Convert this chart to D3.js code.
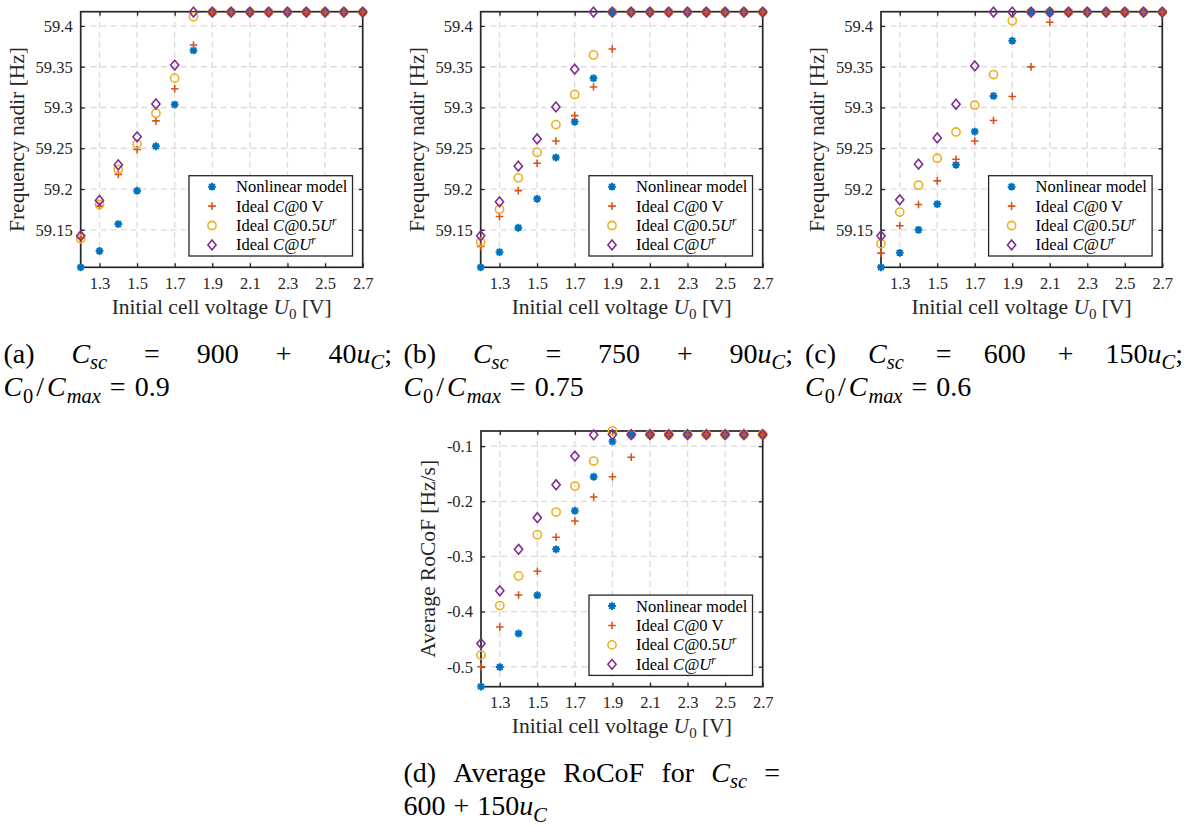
<!DOCTYPE html>
<html><head><meta charset="utf-8">
<script src="https://cdn.jsdelivr.net/npm/d3@7"></script>
<style>
body{margin:0;background:#fff}
svg{display:block}
</style>
</head><body>
<svg id="chart" width="1188" height="827"></svg>
<script>
// ---------------- data ----------------
const voltages = [1.2, 1.3, 1.4, 1.5, 1.6, 1.7, 1.8, 1.9, 2.0, 2.1, 2.2, 2.3, 2.4, 2.5, 2.6, 2.7];
const voltageTicks = [1.3, 1.5, 1.7, 1.9, 2.1, 2.3, 2.5, 2.7];
const voltageTickLabels = ["1.3", "1.5", "1.7", "1.9", "2.1", "2.3", "2.5", "2.7"];
const nadirTicks = [59.15, 59.2, 59.25, 59.3, 59.35, 59.4];
const nadirTickLabels = ["59.15", "59.2", "59.25", "59.3", "59.35", "59.4"];
const rocofTicks = [-0.5, -0.4, -0.3, -0.2, -0.1];
const rocofTickLabels = ["-0.5", "-0.4", "-0.3", "-0.2", "-0.1"];
const voltageRange = [1.2, 2.7];
const nadirRange = [59.104, 59.4175];
const rocofRange = [-0.5362, -0.0725];

// (a) Csc = 900 + 40uC
const aNonlinear = [59.104, 59.124, 59.157, 59.198, 59.2525, 59.3036, 59.370, 59.417, 59.417, 59.417, 59.417, 59.417, 59.417, 59.417, 59.417, 59.417];
const aIdeal0    = [59.140, 59.179, 59.218, 59.2485, 59.2836, 59.323, 59.3767, 59.417, 59.417, 59.417, 59.417, 59.417, 59.417, 59.417, 59.417, 59.417];
const aIdealHalf = [59.139, 59.181, 59.224, 59.2554, 59.293, 59.336, 59.4114, 59.417, 59.417, 59.417, 59.417, 59.417, 59.417, 59.417, 59.417, 59.417];
const aIdealFull = [59.1426, 59.186, 59.2297, 59.264, 59.3044, 59.352, 59.417, 59.417, 59.417, 59.417, 59.417, 59.417, 59.417, 59.417, 59.417, 59.417];
// (b) Csc = 750 + 90uC
const bNonlinear = [59.104, 59.1226, 59.1525, 59.188, 59.2386, 59.2824, 59.3359, 59.417, 59.417, 59.417, 59.417, 59.417, 59.417, 59.417, 59.417, 59.417];
const bIdeal0    = [59.1296, 59.1663, 59.198, 59.2317, 59.259, 59.290, 59.3252, 59.3718, 59.417, 59.417, 59.417, 59.417, 59.417, 59.417, 59.417, 59.417];
const bIdealHalf = [59.1349, 59.1753, 59.2137, 59.245, 59.279, 59.316, 59.3645, 59.417, 59.417, 59.417, 59.417, 59.417, 59.417, 59.417, 59.417, 59.417];
const bIdealFull = [59.1426, 59.1843, 59.228, 59.2615, 59.3007, 59.347, 59.417, 59.417, 59.417, 59.417, 59.417, 59.417, 59.417, 59.417, 59.417, 59.417];
// (c) Csc = 600 + 150uC
const cNonlinear = [59.104, 59.1218, 59.150, 59.1815, 59.2297, 59.2705, 59.3142, 59.382, 59.417, 59.417, 59.417, 59.417, 59.417, 59.417, 59.417, 59.417];
const cIdeal0    = [59.1214, 59.155, 59.181, 59.210, 59.2366, 59.259, 59.284, 59.3134, 59.3498, 59.4045, 59.417, 59.417, 59.417, 59.417, 59.417, 59.417];
const cIdealHalf = [59.1328, 59.1717, 59.2047, 59.2378, 59.270, 59.3028, 59.3404, 59.4065, 59.417, 59.417, 59.417, 59.417, 59.417, 59.417, 59.417, 59.417];
const cIdealFull = [59.1426, 59.1868, 59.2305, 59.2627, 59.304, 59.351, 59.417, 59.417, 59.417, 59.417, 59.417, 59.417, 59.417, 59.417, 59.417, 59.417];
// (d) average RoCoF, Csc = 600 + 150uC
const dNonlinear = [-0.536, -0.5006, -0.4397, -0.3703, -0.287, -0.217, -0.1555, -0.0916, -0.079, -0.079, -0.079, -0.079, -0.079, -0.079, -0.079, -0.079];
const dIdeal0    = [-0.500, -0.428, -0.370, -0.3268, -0.2653, -0.2357, -0.1923, -0.1555, -0.120, -0.079, -0.079, -0.079, -0.079, -0.079, -0.079, -0.079];
const dIdealHalf = [-0.479, -0.389, -0.3353, -0.2605, -0.2195, -0.1724, -0.127, -0.0722, -0.079, -0.079, -0.079, -0.079, -0.079, -0.079, -0.079, -0.079];
const dIdealFull = [-0.458, -0.3624, -0.287, -0.2297, -0.170, -0.118, -0.0795, -0.079, -0.079, -0.079, -0.079, -0.079, -0.079, -0.079, -0.079, -0.079];

const seriesColors = ["#0072BD", "#D95319", "#EDB120", "#7E2F8E"];
const seriesMarkers = ["asterisk", "plus", "circle", "diamond"];
const legendLabels = [
  [{t: "Nonlinear model"}],
  [{t: "Ideal "}, {t: "C", i: 1}, {t: "@0 V"}],
  [{t: "Ideal "}, {t: "C", i: 1}, {t: "@0.5"}, {t: "U", i: 1}, {t: "r", i: 1, sup: 1}],
  [{t: "Ideal "}, {t: "C", i: 1}, {t: "@"}, {t: "U", i: 1}, {t: "r", i: 1, sup: 1}]
];

// ---------------- drawing ----------------
const FONT = "'Liberation Serif', 'Times New Roman', serif";
const svg = d3.select("#chart").style("font-family", FONT);
svg.append("rect").attr("width", 1188).attr("height", 827).attr("fill", "#fff");
const INK = "#262626";

function txt(parent) {
  return parent.append("text").style("font-family", FONT).style("white-space", "pre");
}

function rich(sel, parts, size, subRatio = 0.7) {
  let shift = 0;
  parts.forEach(p => {
    const target = p.sub ? size * 0.24 : p.sup ? -size * 0.38 : 0;
    sel.append("tspan").text(p.t)
      .attr("dy", target - shift)
      .attr("dx", p.dx || 0)
      .style("font-family", FONT)
      .attr("font-size", (p.sub || p.sup) ? size * subRatio : size)
      .attr("font-style", p.i ? "italic" : "normal");
    shift = target;
  });
  return sel;
}

function markerPath(type) {
  if (type === "asterisk") { const s = 3.9, k = s * 0.72;
    return `M${-s},0H${s}M0,${-s}V${s}M${-k},${-k}L${k},${k}M${-k},${k}L${k},${-k}`; }
  if (type === "plus") { const s = 3.8; return `M${-s},0H${s}M0,${-s}V${s}`; }
  if (type === "diamond") { const w = 4.1, h = 4.9; return `M0,${-h}L${w},0L0,${h}L${-w},0Z`; }
  return d3.symbol(d3.symbolCircle, Math.PI * 4.1 * 4.1)();
}

function drawMarker(g, type, color) {
  return g.append("path").attr("d", markerPath(type))
    .attr("fill", "none").attr("stroke", color)
    .attr("stroke-width", type === "asterisk" ? 2 : 1.6);
}

const panels = [
  {box: [80.7, 11.7, 362.7, 267.3], yDomain: nadirRange, yTicks: nadirTicks, yTickLabels: nadirTickLabels, yTitle: "Frequency nadir [Hz]", series: [aNonlinear, aIdeal0, aIdealHalf, aIdealFull]},
  {box: [480.7, 11.7, 762.7, 267.3], yDomain: nadirRange, yTicks: nadirTicks, yTickLabels: nadirTickLabels, yTitle: "Frequency nadir [Hz]", series: [bNonlinear, bIdeal0, bIdealHalf, bIdealFull]},
  {box: [881, 11.7, 1162.3, 267.3], yDomain: nadirRange, yTicks: nadirTicks, yTickLabels: nadirTickLabels, yTitle: "Frequency nadir [Hz]", series: [cNonlinear, cIdeal0, cIdealHalf, cIdealFull]},
  {box: [481, 431, 762.7, 686.7], yDomain: rocofRange, yTicks: rocofTicks, yTickLabels: rocofTickLabels, yTitle: "Average RoCoF [Hz/s]", series: [dNonlinear, dIdeal0, dIdealHalf, dIdealFull]}
];

const TICK_FS = 16.5, LABEL_FS = 21.5, LEG_FS = 16.5;

panels.forEach(p => {
  const [L, T, R, B] = p.box;
  const x = d3.scaleLinear().domain(voltageRange).range([L, R]);
  const y = d3.scaleLinear().domain(p.yDomain).range([B, T]);
  const g = svg.append("g");

  // grid
  const grid = g.append("g").attr("stroke", "#dcdcdc").attr("stroke-width", 1.3).attr("stroke-dasharray", "6,4");
  grid.selectAll(".vg").data(voltageTicks).join("line")
    .attr("x1", d => x(d)).attr("x2", d => x(d)).attr("y1", T).attr("y2", B);
  grid.selectAll(".hg").data(p.yTicks).join("line")
    .attr("y1", d => y(d)).attr("y2", d => y(d)).attr("x1", L).attr("x2", R);

  // axes
  const style = (sel) => {
    sel.attr("font-family", null);
    sel.select(".domain").remove();
    sel.selectAll(".tick line").attr("stroke", INK).attr("stroke-width", 1.3);
    sel.selectAll(".tick text").attr("fill", INK).attr("font-size", TICK_FS)
      .style("font-family", FONT);
  };
  g.append("g").attr("transform", `translate(0,${B})`)
    .call(d3.axisBottom(x).tickValues(voltageTicks).tickFormat((d, i) => voltageTickLabels[i]).tickSize(-4).tickPadding(10)).call(style);
  g.append("g").attr("transform", `translate(0,${T})`)
    .call(d3.axisTop(x).tickValues(voltageTicks).tickFormat("").tickSize(-4)).call(style);
  const yAx = g.append("g").attr("transform", `translate(${L},0)`)
    .call(d3.axisLeft(y).tickValues(p.yTicks).tickFormat((d, i) => p.yTickLabels[i]).tickSize(-4).tickPadding(8)).call(style);
  g.append("g").attr("transform", `translate(${R},0)`)
    .call(d3.axisRight(y).tickValues(p.yTicks).tickFormat("").tickSize(-4)).call(style);
  g.append("rect").attr("x", L).attr("y", T).attr("width", R - L).attr("height", B - T)
    .attr("fill", "none").attr("stroke", INK).attr("stroke-width", 1.7);

  // axis titles
  const xt = txt(g).attr("x", (L + R) / 2).attr("y", B + 46.3)
    .attr("text-anchor", "middle").attr("fill", INK);
  rich(xt, [{t: "Initial cell voltage "}, {t: "U", i: 1}, {t: "0", sub: 1}, {t: " [V]"}], LABEL_FS);

  let maxW = 0;
  yAx.selectAll(".tick text").each(function () { maxW = Math.max(maxW, this.getComputedTextLength()); });
  const yx = L - maxW - 8 - 11.5;
  txt(g).attr("transform", `translate(${yx},${(T + B) / 2}) rotate(-90)`)
    .attr("text-anchor", "middle").attr("fill", INK).attr("font-size", LABEL_FS).text(p.yTitle);

  // data
  p.series.forEach((vals, si) => {
    const sg = g.append("g");
    voltages.forEach((v, i) => {
      drawMarker(sg, seriesMarkers[si], seriesColors[si])
        .attr("transform", `translate(${x(v)},${y(vals[i])})`);
    });
  });

  // legend
  const lw = 163.5, lh = 80.3;
  const lx = R - 10.2 - lw, ly = B - 11.3 - lh;
  const lg = g.append("g");
  lg.append("rect").attr("x", lx).attr("y", ly).attr("width", lw).attr("height", lh)
    .attr("fill", "#fff").attr("stroke", INK).attr("stroke-width", 1.3);
  legendLabels.forEach((parts, i) => {
    const ry = ly + 11 + i * 19.4;
    drawMarker(lg, seriesMarkers[i], seriesColors[i]).attr("transform", `translate(${lx + 23},${ry})`);
    const t = txt(lg).attr("x", lx + 47).attr("y", ry + 5.5).attr("fill", "#000");
    rich(t, parts, LEG_FS);
  });
});

// ---------------- captions ----------------
const CAP_FS = 28, CAP_SUB = 0.73;
function justifiedLine(items, left, right, baseline) {
  const nodes = items.map(parts => rich(txt(svg).attr("y", baseline).attr("fill", "#000"), parts, CAP_FS, CAP_SUB));
  const widths = nodes.map(n => n.node().getComputedTextLength());
  const gap = (right - left - d3.sum(widths)) / (items.length - 1);
  let cx = left;
  nodes.forEach((n, i) => { n.attr("x", cx); cx += widths[i] + gap; });
}
function plainLine(parts, left, baseline) {
  rich(txt(svg).attr("x", left).attr("y", baseline).attr("fill", "#000"), parts, CAP_FS, CAP_SUB);
}
const Csc = [{t: "C", i: 1}, {t: "sc", i: 1, sub: 1}];
const ratio = (v) => [{t: "C", i: 1}, {t: "0", sub: 1, dx: 1}, {t: "/", dx: 3}, {t: "C", i: 1, dx: 3}, {t: "max", i: 1, sub: 1, dx: 1}, {t: "=", dx: 9}, {t: v, dx: 9}];
const captionTop = [
  {left: 3.4, right: 392, items: [[{t: "(a)"}], Csc, [{t: "="}], [{t: "900"}], [{t: "+"}], [{t: "40"}, {t: "u", i: 1}, {t: "C", i: 1, sub: 1}, {t: ";"}]],
   second: ratio("0.9")},
  {left: 403.4, right: 793, items: [[{t: "(b)"}], Csc, [{t: "="}], [{t: "750"}], [{t: "+"}], [{t: "90"}, {t: "u", i: 1}, {t: "C", i: 1, sub: 1}, {t: ";"}]],
   second: ratio("0.75")},
  {left: 805, right: 1183, items: [[{t: "(c)"}], Csc, [{t: "="}], [{t: "600"}], [{t: "+"}], [{t: "150"}, {t: "u", i: 1}, {t: "C", i: 1, sub: 1}, {t: ";"}]],
   second: ratio("0.6")}
];
captionTop.forEach(c => {
  justifiedLine(c.items, c.left, c.right, 362.5);
  plainLine(c.second, c.left, 396);
});
justifiedLine([[{t: "(d)"}], [{t: "Average"}], [{t: "RoCoF"}], [{t: "for"}], Csc, [{t: "="}]], 403.4, 780, 781.5);
plainLine([{t: "600"}, {t: "+", dx: 8}, {t: "150", dx: 8}, {t: "u", i: 1}, {t: "C", i: 1, sub: 1}], 403.4, 815);
</script>
</body></html>
